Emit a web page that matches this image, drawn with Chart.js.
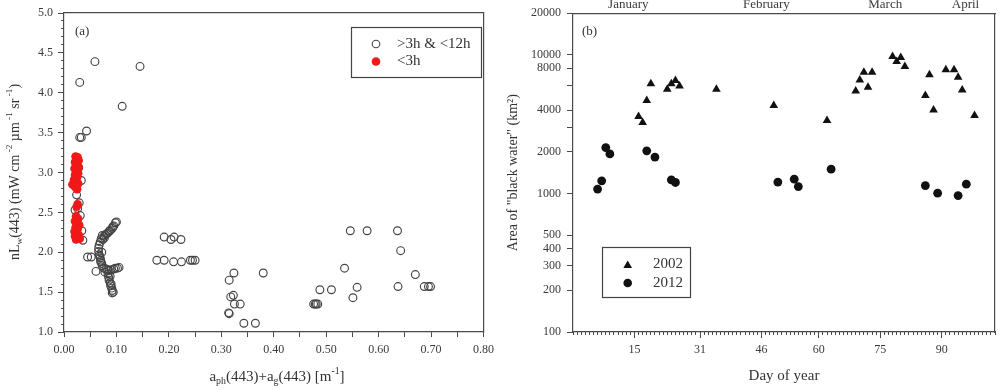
<!DOCTYPE html>
<html><head><meta charset="utf-8">
<script src="https://cdn.jsdelivr.net/npm/chart.js@4"></script>
<style>
html,body{margin:0;padding:0;background:#fff;width:1000px;height:390px;overflow:hidden}
#a,#b{position:absolute;top:0;width:500px;height:390px}
#a{left:0}#b{left:500px}
</style></head><body>
<div id="a"><canvas id="ca" width="500" height="390"></canvas></div>
<div id="b"><canvas id="cb" width="500" height="390"></canvas></div>
<script>
// ---------- Panel (a) data ----------
const openX = [0.059,0.145,0.030,0.111,0.043,0.033,0.030,0.033,0.028,0.024,0.029,0.021,0.031,0.034,0.036,0.026,0.045,0.052,0.061,
  0.100,0.098,0.095,0.092,0.089,0.086,0.083,0.079,0.076,0.073,0.071,0.069,0.067,0.066,0.066,0.067,0.069,0.070,0.072,0.073,0.076,0.080,0.083,0.086,0.090,0.095,0.098,0.102,0.105,0.084,0.085,0.086,0.088,0.089,0.091,0.092,0.092,0.078,0.072,
  0.074,0.077,0.081,0.087,0.093,0.068,0.070,0.088,0.090,0.094,
  0.191,0.204,0.210,0.223,0.177,0.191,0.209,0.224,0.241,0.245,0.250,
  0.315,0.324,0.318,0.323,0.325,0.336,0.315,0.314,0.343,0.365,0.380,
  0.476,0.479,0.481,0.484,0.488,0.510,0.535,0.546,0.578,0.636,0.642,0.559,0.551,0.637,0.670,0.687,0.695,0.699];
const openY = [4.39,4.33,4.13,3.83,3.52,3.44,3.44,2.90,3.06,2.72,2.62,2.53,2.46,2.27,2.15,2.55,1.94,1.94,1.76,
  2.38,2.37,2.33,2.30,2.28,2.26,2.24,2.22,2.20,2.21,2.17,2.13,2.09,2.05,2.01,1.97,1.93,1.90,1.86,1.83,1.80,1.79,1.78,1.77,1.78,1.79,1.80,1.80,1.81,1.73,1.69,1.65,1.62,1.58,1.55,1.52,1.49,1.75,2.00,
  2.16,2.18,2.23,2.27,2.32,1.95,1.88,1.70,1.60,1.50,
  2.19,2.16,2.19,2.16,1.90,1.90,1.88,1.88,1.90,1.90,1.90,
  1.65,1.74,1.44,1.46,1.35,1.35,1.23,1.24,1.11,1.11,1.74,
  1.35,1.35,1.35,1.35,1.53,1.53,1.80,2.27,2.27,2.27,2.02,1.56,1.43,1.57,1.72,1.57,1.57,1.57];
const redX = [0.022,0.026,0.028,0.021,0.025,0.028,0.020,0.024,0.027,0.021,0.025,0.019,0.023,0.027,0.016,0.021,0.025,
  0.026,0.024,
  0.023,0.027,0.021,0.025,0.029,0.022,0.026,0.020,0.024,0.028,0.021,0.025,0.030,0.023];
const redY = [3.20,3.19,3.15,3.13,3.10,3.07,3.05,3.02,2.99,2.97,2.94,2.91,2.88,2.86,2.85,2.82,2.79,
  2.60,2.57,
  2.45,2.42,2.39,2.37,2.34,2.31,2.29,2.26,2.24,2.22,2.20,2.18,2.17,2.16];
const seriesA = ['>3h & <12h','<3h'];

// ---------- Panel (b) data ----------
const days2002 = [16,17,18,19,23,24,25,26,35,49,62,69,70,71,72,73,78,79,80,81,86,87,88,91,93,94,95,98];
const area2002 = [3590,3250,4680,6180,5660,6180,6530,5970,5660,4310,3360,5500,6600,7500,5850,7500,9720,8950,9570,8240,5090,7180,4010,7800,7800,6900,5590,3650];
const days2012 = [6,7,8,9,18,20,24,25,50,54,55,63,86,89,94,96];
const area2012 = [1075,1233,2145,1930,2030,1830,1254,1200,1208,1268,1122,1497,1140,1005,966,1167];
const seriesB = ['2002','2012'];
const dayTicks = [15,31,46,60,75,90];
const monthNames = ['January','February','March','April'];
const monthPos = [13.5,47.2,76.2,95.8];
const areaTickVals = [100,200,300,400,500,1000,2000,3000,4000,6000,8000,10000,20000];
const areaLabelVals = [100,200,300,400,500,1000,2000,4000,8000,10000,20000];

// ---------- styling ----------
const FONT = "'Liberation Serif','Times New Roman',serif";
const AX = '#4a4a4a', TXT = '#3a3a3a', TITLE = '#333';
const fixW = w => s => { s.width = w; };
const fixH = h => s => { s.height = h; };
const pts = (xs, ys) => xs.map((x, i) => ({x, y: ys[i]}));

function richText(ctx, segs, x, y, size, rot) {
  ctx.save(); ctx.translate(x, y); ctx.rotate(rot || 0);
  ctx.fillStyle = TITLE; ctx.textBaseline = 'middle'; ctx.textAlign = 'left';
  let w = 0;
  segs.forEach(s => { const fs = s.s ? size * 0.66 : size; ctx.font = fs + 'px ' + FONT; s.w = ctx.measureText(s.t).width; w += s.w; });
  let cx = -w / 2;
  segs.forEach(s => {
    const fs = s.s ? size * 0.66 : size; ctx.font = fs + 'px ' + FONT;
    const dy = s.s === 'sub' ? size * 0.32 : (s.s === 'sup' ? -size * 0.36 : 0);
    ctx.fillText(s.t, cx, dy); cx += s.w;
  });
  ctx.restore();
}
function marker(ctx, style, x, y, r, fill, stroke, bw) {
  ctx.save(); ctx.beginPath();
  if (style === 'triangle') {
    for (let k = 0; k < 3; k++) { const a = k * 2 * Math.PI / 3; const px = x + Math.sin(a) * r, py = y - Math.cos(a) * r; k ? ctx.lineTo(px, py) : ctx.moveTo(px, py); }
    ctx.closePath();
  } else ctx.arc(x, y, r, 0, Math.PI * 2);
  if (fill) { ctx.fillStyle = fill; ctx.fill(); }
  if (stroke) { ctx.strokeStyle = stroke; ctx.lineWidth = bw || 1; ctx.stroke(); }
  ctx.restore();
}

const decorA = { id: 'decorA', afterDraw(chart) {
  const ctx = chart.ctx;
  richText(ctx, [{t:'nL'},{t:'w',s:'sub'},{t:'(443) (mW cm'},{t:' -2',s:'sup'},{t:' \u00b5m'},{t:' -1',s:'sup'},{t:' sr'},{t:' -1',s:'sup'},{t:')'}], 15, 172, 14, -Math.PI / 2);
  richText(ctx, [{t:'a'},{t:'ph',s:'sub'},{t:'(443)+a'},{t:'g',s:'sub'},{t:'(443) [m'},{t:'-1',s:'sup'},{t:']'}], 277, 377, 15, 0);
  ctx.save();
  ctx.fillStyle = TITLE; ctx.font = '13px ' + FONT; ctx.textBaseline = 'middle'; ctx.textAlign = 'left';
  ctx.fillText('(a)', 75, 31.5);
  ctx.strokeStyle = '#444'; ctx.lineWidth = 1.2; ctx.strokeRect(351.5, 27.5, 130, 50);
  marker(ctx, 'circle', 376, 44, 3.8, null, '#444', 1.1);
  marker(ctx, 'circle', 376, 61.5, 4.3, '#f01818', null);
  ctx.fillStyle = TITLE; ctx.font = '15px ' + FONT;
  ctx.fillText(seriesA[0], 397, 44); ctx.fillText(seriesA[1], 397, 61.5);
  ctx.restore();
}};

const decorB = { id: 'decorB', afterDraw(chart) {
  const ctx = chart.ctx;
  ctx.save();
  ctx.fillStyle = TITLE; ctx.font = '13px ' + FONT; ctx.textBaseline = 'middle'; ctx.textAlign = 'left';
  ctx.fillText('(b)', 82, 32);
  ctx.strokeStyle = '#444'; ctx.lineWidth = 1.2; ctx.strokeRect(102.5, 247.5, 88, 50);
  marker(ctx, 'triangle', 127.7, 265.5, 5, '#111', null);
  marker(ctx, 'circle', 127.7, 283, 4.3, '#111', null);
  ctx.fillStyle = TITLE; ctx.font = '15px ' + FONT;
  ctx.fillText(seriesB[0], 153, 264.5); ctx.fillText(seriesB[1], 153, 283);
  ctx.restore();
}};

const tickFont = {family: FONT, size: 12};

new Chart(document.getElementById('ca'), {
  type: 'scatter',
  data: { datasets: [
    { label: seriesA[1], data: pts(redX, redY), pointRadius: 4.3, pointBackgroundColor: '#f01818', pointBorderColor: '#f01818', pointBorderWidth: 0, order: 0 },
    { label: seriesA[0], data: pts(openX, openY), pointRadius: 3.9, pointBackgroundColor: 'rgba(0,0,0,0)', pointBorderColor: '#444', pointBorderWidth: 1.15, order: 1 }
  ]},
  options: {
    responsive: false, animation: false, events: [],
    layout: { padding: { top: 13, right: 10, left: 0, bottom: 0 } },
    plugins: { legend: { display: false }, tooltip: { enabled: false } },
    scales: {
      x: { type: 'linear', position: 'bottom', min: 0, max: 0.8, weight: 1, afterFit: fixH(58),
        ticks: { stepSize: 0.05, autoSkip: false, maxRotation: 0, padding: 6, color: TXT, font: tickFont,
          callback: v => { const k = Math.round(v * 100); return k % 10 === 0 ? (k / 100).toFixed(2) : ''; } },
        grid: { drawOnChartArea: false, tickLength: 5, tickColor: AX, color: AX },
        border: { color: AX, width: 1.2 } },
      y: { type: 'linear', position: 'left', min: 1, max: 5, weight: 1, afterFit: fixW(64),
        ticks: { stepSize: 0.5, autoSkip: false, padding: 5, color: TXT, font: tickFont, callback: v => Number(v).toFixed(1) },
        grid: { drawOnChartArea: false, tickLength: 6, tickColor: AX, color: AX },
        border: { color: AX, width: 1.2 } },
      yMinor: { type: 'linear', position: 'left', min: 1, max: 5, weight: 0, afterFit: fixW(0),
        ticks: { stepSize: 0.1, autoSkip: false, display: false },
        grid: { drawOnChartArea: false, tickLength: 3, tickColor: AX, color: AX },
        border: { display: false } },
      xTop: { type: 'linear', position: 'top', min: 0, max: 0.8, afterFit: fixH(0),
        ticks: { display: false }, grid: { display: false }, border: { color: AX, width: 1.2 } },
      yRight: { type: 'linear', position: 'right', min: 1, max: 5, afterFit: fixW(0),
        ticks: { display: false }, grid: { display: false }, border: { color: AX, width: 1.2 } }
    }
  },
  plugins: [decorA]
});

new Chart(document.getElementById('cb'), {
  type: 'scatter',
  data: { datasets: [
    { label: seriesB[0], data: pts(days2002, area2002), pointStyle: 'triangle', pointRadius: 5, pointBackgroundColor: '#111', pointBorderColor: '#111', pointBorderWidth: 0 },
    { label: seriesB[1], data: pts(days2012, area2012), pointStyle: 'circle', pointRadius: 4.4, pointBackgroundColor: '#111', pointBorderColor: '#111', pointBorderWidth: 0 }
  ]},
  options: {
    responsive: false, animation: false, events: [],
    layout: { padding: { top: 0, right: 2, left: 0, bottom: 0 } },
    plugins: { legend: { display: false }, tooltip: { enabled: false } },
    scales: {
      x: { type: 'linear', position: 'bottom', min: 0, max: 103, weight: 1, afterFit: fixH(58),
        afterBuildTicks: s => { s.ticks = dayTicks.map(v => ({ value: v })); },
        ticks: { autoSkip: false, maxRotation: 0, padding: 5, color: TXT, font: tickFont, callback: v => String(v) },
        grid: { drawOnChartArea: false, tickLength: 6, tickColor: AX, color: AX },
        border: { color: AX, width: 1.2 },
        title: { display: true, text: 'Day of year', color: TITLE, font: { family: FONT, size: 15 }, padding: { top: 0, bottom: 5 } } },
      xMinor: { type: 'linear', position: 'bottom', min: 0, max: 103, weight: 0, afterFit: fixH(0),
        ticks: { stepSize: 1, autoSkip: false, display: false },
        grid: { drawOnChartArea: false, tickLength: 3, tickColor: AX, color: AX },
        border: { display: false } },
      y: { type: 'logarithmic', position: 'left', min: 100, max: 20000, afterFit: fixW(73),
        afterBuildTicks: s => { s.ticks = areaTickVals.map(v => ({ value: v })); },
        ticks: { autoSkip: false, padding: 6, color: TXT, font: tickFont, callback: v => areaLabelVals.includes(v) ? String(v) : '' },
        grid: { drawOnChartArea: false, tickLength: 6, tickColor: AX, color: AX },
        border: { color: AX, width: 1.2 },
        title: { display: true, text: 'Area of "black water" (km\u00b2)', color: TITLE, font: { family: FONT, size: 14 }, padding: { top: 4.6, bottom: 0 } } },
      x2: { type: 'linear', position: 'top', min: 0, max: 103, afterFit: fixH(13),
        afterBuildTicks: s => { s.ticks = monthPos.map(v => ({ value: v })); },
        ticks: { autoSkip: false, maxRotation: 0, padding: -7, color: TXT, font: { family: FONT, size: 13 }, callback: (v, i) => monthNames[i] },
        grid: { display: false }, border: { color: AX, width: 1.2 } },
      yR: { type: 'logarithmic', position: 'right', min: 100, max: 20000, afterFit: fixW(0),
        ticks: { display: false }, grid: { display: false }, border: { color: AX, width: 1.2 } }
    }
  },
  plugins: [decorB]
});
</script>
</body></html>
